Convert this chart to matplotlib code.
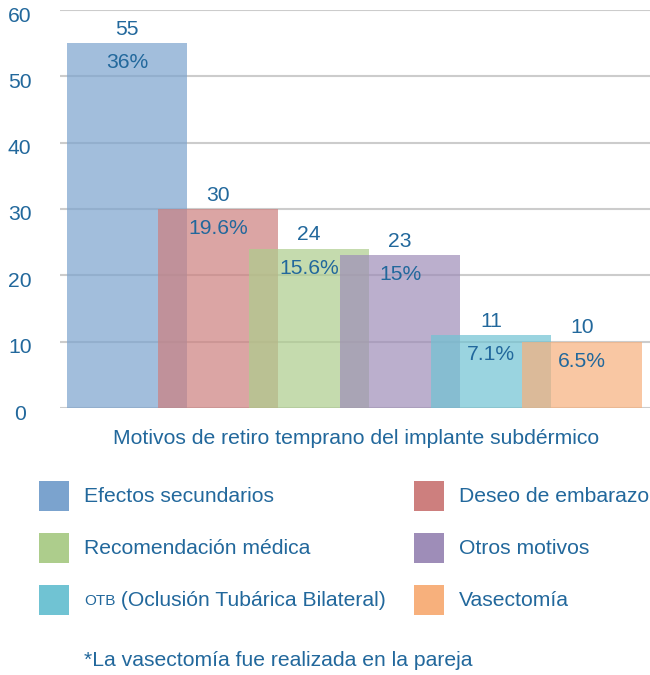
import matplotlib.pyplot as plt
import matplotlib.transforms as mtransforms
from matplotlib.patches import Rectangle

plt.rcParams['font.family'] = ['Liberation Sans', 'DejaVu Sans']

motivos = ['Efectos secundarios', 'Deseo de embarazo', 'Recomendación médica',
           'Otros motivos', 'OTB (Oclusión Tubárica Bilateral)', 'Vasectomía']
casos = [55, 30, 24, 23, 11, 10]
porcentajes = ['36%', '19.6%', '15.6%', '15%', '7.1%', '6.5%']
colores = ['#7BA3CE', '#CD7F7E', '#ADCD8C', '#9E8DB8', '#70C3D3', '#F7B07C']
y_ticks = [0, 10, 20, 30, 40, 50, 60]

azul = '#22689C'
fs = 15.2

fig = plt.figure(figsize=(6.5, 6.75), dpi=100)
ax = fig.add_axes([60 / 650, (675 - 408) / 675, 590 / 650, 398 / 675])

for i in range(len(casos)):
    ax.bar(i, casos[i], width=1.32, color=colores[i], alpha=0.7, linewidth=0, zorder=2)
    ax.annotate(str(casos[i]), (i, casos[i]), xytext=(0, 10), textcoords='offset points',
                ha='center', va='center', fontsize=fs, color=azul)
    ax.annotate(porcentajes[i], (i, casos[i]), xytext=(0, -14), textcoords='offset points',
                ha='center', va='center', fontsize=fs, color=azul)

ax.set_xlim(-0.736, 5.747)
ax.set_ylim(0, 60)
ax.set_yticks(y_ticks)
ax.set_xticks([])
ax.grid(axis='y', color='#CCCCCC', linewidth=1.5, zorder=0)
ax.set_axisbelow(True)
for s in ax.spines.values():
    s.set_visible(False)
ax.tick_params(axis='y', length=0, pad=29, labelsize=fs, labelcolor=azul)
off = mtransforms.ScaledTranslation(0, -4 / 100, fig.dpi_scale_trans)
for lab in ax.get_yticklabels():
    lab.set_horizontalalignment('center')
    lab.set_transform(lab.get_transform() + off)

def fx(px):
    return px / 650

def fy(py):
    return 1 - py / 675

fig.text(fx(356), fy(438), 'Motivos de retiro temprano del implante subdérmico',
         ha='center', va='center', fontsize=fs, color=azul)

filas = [496, 548, 600]
for k in range(len(motivos)):
    fila = filas[k // 2]
    x0 = 39 if k % 2 == 0 else 414
    fig.patches.append(Rectangle((fx(x0), fy(fila + 15)), 30 / 650, 30 / 675,
                                 transform=fig.transFigure, color=colores[k], linewidth=0))
    if motivos[k].startswith('OTB'):
        fig.text(fx(x0 + 45), fy(fila + 1), 'OTB', ha='left', va='center', fontsize=11, color=azul)
        fig.text(fx(x0 + 76), fy(fila), motivos[k][3:], ha='left', va='center', fontsize=fs, color=azul)
    else:
        fig.text(fx(x0 + 45), fy(fila), motivos[k], ha='left', va='center', fontsize=fs, color=azul)

fig.text(fx(84), fy(660), '*La vasectomía fue realizada en la pareja',
         ha='left', va='center', fontsize=fs, color=azul)

fig.savefig('out.png', dpi=100)
